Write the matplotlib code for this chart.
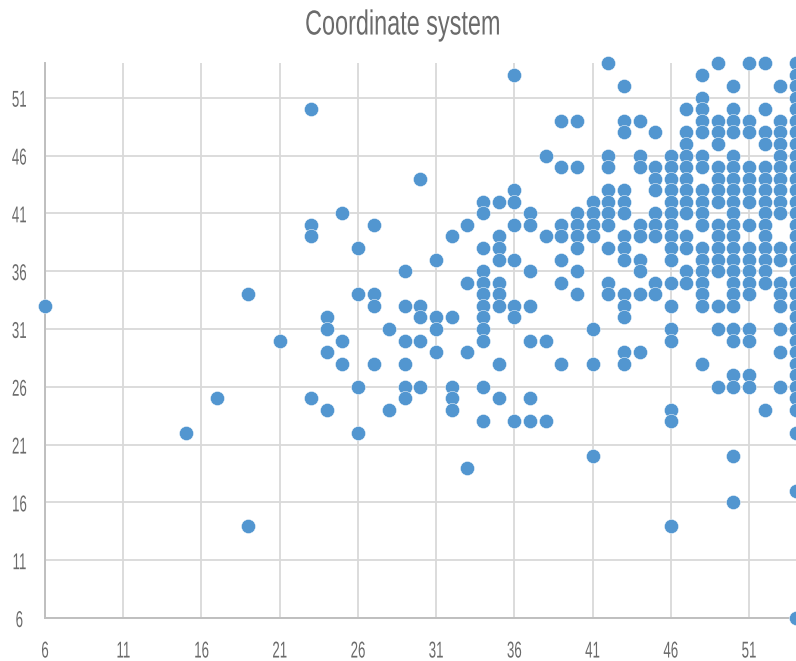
import matplotlib
matplotlib.use("Agg")
import matplotlib.pyplot as plt
from matplotlib.patheffects import AbstractPathEffect
from matplotlib.transforms import Affine2D

TITLE = "Coordinate system"
TICKS = [6, 11, 16, 21, 26, 31, 36, 41, 46, 51]

# Each entry: x value and the y values plotted at that x
x_columns = [6, 15, 17, 19, 21, 23, 24, 25, 26, 27, 28, 29, 30, 31, 32, 33, 34, 35, 36, 37,
             38, 39, 40, 41, 42, 43, 44, 45, 46, 47, 48, 49, 50, 51, 52, 53, 54]
y_columns = [
    [33],
    [22],
    [25],
    [34, 14],
    [30],
    [50, 40, 39, 25],
    [32, 31, 29, 24],
    [41, 30, 28],
    [38, 34, 26, 22],
    [40, 34, 33, 28],
    [31, 24],
    [36, 33, 30, 28, 26, 25],
    [44, 33, 32, 30, 26],
    [37, 32, 31, 29],
    [39, 32, 26, 25, 24],
    [40, 35, 29, 19],
    [42, 41, 38, 36, 35, 34, 33, 32, 31, 30, 26, 23],
    [42, 39, 38, 37, 35, 34, 33, 28, 25],
    [53, 43, 42, 40, 37, 33, 32, 23],
    [41, 40, 36, 33, 30, 25, 23],
    [46, 39, 30, 23],
    [49, 45, 40, 39, 37, 35, 28],
    [49, 45, 41, 40, 39, 38, 36, 34],
    [42, 41, 40, 39, 31, 28, 20],
    [54, 46, 45, 43, 42, 41, 40, 38, 35, 34],
    [52, 49, 48, 43, 42, 41, 39, 38, 37, 34, 33, 32, 29, 28],
    [49, 46, 45, 40, 39, 37, 36, 34, 29],
    [48, 45, 44, 43, 41, 40, 39, 35, 34],
    [46, 45, 44, 43, 42, 41, 40, 39, 38, 37, 35, 33, 31, 30, 24, 23, 14],
    [50, 48, 47, 46, 45, 44, 43, 42, 41, 39, 38, 36, 35],
    [53, 51, 50, 49, 48, 46, 45, 43, 42, 41, 40, 38, 37, 36, 35, 34, 33, 28],
    [54, 49, 48, 47, 45, 44, 43, 42, 40, 39, 38, 37, 36, 33, 31, 26],
    [52, 50, 49, 48, 46, 45, 44, 43, 42, 41, 40, 39, 38, 37, 36, 35, 34, 33, 31, 30, 27, 26, 20, 16],
    [54, 49, 48, 45, 44, 43, 42, 40, 38, 37, 36, 35, 34, 31, 30, 27, 26],
    [54, 50, 48, 47, 45, 44, 43, 42, 41, 40, 39, 38, 37, 36, 35, 24],
    [52, 49, 48, 47, 46, 45, 44, 43, 42, 41, 38, 37, 35, 34, 33, 31, 29, 26],
    [54, 53, 52, 51, 50, 49, 48, 47, 46, 45, 44, 43, 42, 41, 40, 39, 38, 37, 36, 35, 34, 33, 32, 31,
     30, 29, 28, 27, 26, 25, 24, 22, 17, 6],
]

xs = [x for x, col in zip(x_columns, y_columns) for _ in col]
ys = [y for col in y_columns for y in col]


class Condense(AbstractPathEffect):
    """Narrow the glyphs horizontally about their own centre (the font is very condensed)."""

    def __init__(self, sx):
        super().__init__()
        self.sx = sx

    def draw_path(self, renderer, gc, tpath, affine, rgbFace=None):
        ext = tpath.get_extents()
        mid = (ext.x0 + ext.x1) / 2
        squeeze = Affine2D().translate(-mid, 0).scale(self.sx, 1).translate(mid, 0)
        renderer.draw_path(gc, tpath, squeeze + affine, rgbFace)


W, H = 796, 661
fig = plt.figure(figsize=(W / 100, H / 100), dpi=100, facecolor="white")
ax = fig.add_axes([45 / W, (H - 618) / H, 751 / W, 555 / H])

ax.set_xlim(6, 54)
ax.set_ylim(6, 54)
ax.set_xticks(TICKS)
ax.set_yticks(TICKS)
ax.grid(True, color="#d9d9d9", linewidth=1.3)
ax.set_axisbelow(True)
for side in ("top", "right"):
    ax.spines[side].set_visible(False)
for side in ("left", "bottom"):
    ax.spines[side].set_color("#bfbfbf")
    ax.spines[side].set_linewidth(1.4)

ax.scatter(xs, ys, s=104, color="#5296d0", edgecolors="#ffffff", linewidths=0.35,
           clip_on=False, zorder=3)

font = "Liberation Sans"
ax.tick_params(axis="both", length=0, labelsize=16.5, labelcolor="#6b6b6b")
ax.tick_params(axis="x", pad=15.5)
ax.tick_params(axis="y", pad=18.5)
for lab in ax.get_xticklabels() + ax.get_yticklabels():
    lab.set_family(font)
    lab.set_path_effects([Condense(0.58)])
for lab in ax.get_yticklabels():
    lab.set_horizontalalignment("center")

fig.text(403 / W, 1 - 25 / H, TITLE, ha="center", va="center", fontsize=25, family=font,
         color="#6b6b6b", path_effects=[Condense(0.675)])

fig.savefig("out.png", dpi=100)
